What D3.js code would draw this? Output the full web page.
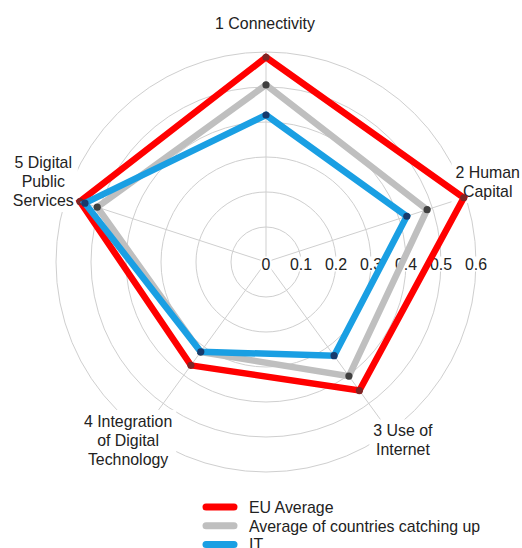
<!DOCTYPE html>
<html>
<head>
<meta charset="utf-8">
<script src="https://cdn.jsdelivr.net/npm/d3@7"></script>
<style>
  body { margin: 0; background: #fff; }
  svg text { font-family: "Liberation Sans", Arial, sans-serif; font-size: 15.9px; fill: #222; }
</style>
</head>
<body>
<div id="chart"></div>
<script>
// axis categories (line breaks as in the picture)
var categories = [
  ["1 Connectivity"],
  ["2 Human", "Capital"],
  ["3 Use of", "Internet"],
  ["4 Integration", "of Digital", "Technology"],
  ["5 Digital", "Public", "Services"]
];

var seriesNames = ["EU Average", "Average of countries catching up", "IT"];
var euAverage = [0.585, 0.594, 0.454, 0.365, 0.559];
var catchingUp = [0.506, 0.484, 0.403, 0.318, 0.507];
var italy = [0.42, 0.423, 0.331, 0.317, 0.544];
var tickValues = [0, 0.1, 0.2, 0.3, 0.4, 0.5, 0.6];

var svgWidth = 522;
var svgHeight = 548;
var cx = 266;
var cy = 262;
var radius = 210;

var lineColors = ["#ff0000", "#bfbfbf", "#1a9fe3"];
var markerColors = ["#7e2424", "#404040", "#173a6c"];

// label offsets from the outer ring point (layout only)
var labelOffset = [[-1, -28.5], [22, -15], [13.5, 8.5], [-14.5, 8.5], [-23, -15.5]];

var svg = d3.select("#chart")
  .append("svg")
  .attr("width", svgWidth)
  .attr("height", svgHeight);

var chartGroup = svg.append("g")
  .attr("transform", `translate(${cx}, ${cy})`);

var rScale = d3.scaleLinear()
  .domain([0, 0.6])
  .range([0, radius]);

var angleScale = d3.scaleLinear()
  .domain([0, categories.length])
  .range([0, 2 * Math.PI]);

function polar(i, r) {
  var a = angleScale(i);
  return [r * Math.sin(a), -r * Math.cos(a)];
}

// grid circles
chartGroup.selectAll(".ring")
  .data(tickValues.slice(1))
  .enter()
  .append("circle")
  .attr("r", d => rScale(d))
  .attr("fill", "none")
  .attr("stroke", "#cfcfcf")
  .attr("stroke-width", 1);

// spokes
chartGroup.selectAll(".spoke")
  .data(categories)
  .enter()
  .append("line")
  .attr("x1", 0)
  .attr("y1", 0)
  .attr("x2", (d, i) => polar(i, rScale(0.6))[0])
  .attr("y2", (d, i) => polar(i, rScale(0.6))[1])
  .attr("stroke", "#cfcfcf")
  .attr("stroke-width", 1);

// category labels with white boxes
var lineHeight = 19;
categories.forEach(function(lines, i) {
  var p = polar(i, rScale(0.6));
  var lx = p[0] + labelOffset[i][0];
  var ly = p[1] + labelOffset[i][1];
  var g = chartGroup.append("g");
  var box = g.append("rect").attr("fill", "#fff");
  var text = g.append("text").attr("text-anchor", "middle");
  lines.forEach(function(s, j) {
    text.append("tspan")
      .attr("x", lx)
      .attr("y", ly + (j - (lines.length - 1) / 2) * lineHeight + 5.5)
      .text(s);
  });
  var bb = text.node().getBBox();
  box.attr("x", bb.x - 4).attr("y", bb.y - 3)
    .attr("width", bb.width + 8).attr("height", bb.height + 6);
});

// radial tick labels
tickValues.forEach(function(t) {
  var g = chartGroup.append("g");
  var box = g.append("rect").attr("fill", "#fff");
  var text = g.append("text")
    .attr("x", rScale(t))
    .attr("y", 7.5)
    .attr("text-anchor", "middle")
    .text(t === 0 ? "0" : d3.format(".1f")(t));
  var bb = text.node().getBBox();
  box.attr("x", bb.x - 1).attr("y", bb.y + 1)
    .attr("width", bb.width + 2).attr("height", bb.height - 2);
});

// series
var allSeries = [euAverage, catchingUp, italy];
var radarLine = d3.lineRadial()
  .angle((d, i) => angleScale(i))
  .radius(d => rScale(d))
  .curve(d3.curveLinearClosed);

allSeries.forEach(function(values, k) {
  chartGroup.append("path")
    .datum(values)
    .attr("d", radarLine)
    .attr("fill", "none")
    .attr("stroke", lineColors[k])
    .attr("stroke-width", 6.5)
    .attr("stroke-linejoin", "miter");

  chartGroup.selectAll(".marker" + k)
    .data(values)
    .enter()
    .append("circle")
    .attr("cx", (d, i) => polar(i, rScale(d))[0])
    .attr("cy", (d, i) => polar(i, rScale(d))[1])
    .attr("r", 3.6)
    .attr("fill", markerColors[k]);
});

// legend
var legendGroup = svg.append("g")
  .attr("transform", "translate(206, 507)");

seriesNames.forEach(function(name, k) {
  var y = k * 18.7;
  legendGroup.append("line")
    .attr("x1", 0)
    .attr("x2", 28)
    .attr("y1", y)
    .attr("y2", y)
    .attr("stroke", lineColors[k])
    .attr("stroke-width", 7)
    .attr("stroke-linecap", "round");
  legendGroup.append("text")
    .attr("x", 43)
    .attr("y", y + 6)
    .text(name);
});
</script>
</body>
</html>
